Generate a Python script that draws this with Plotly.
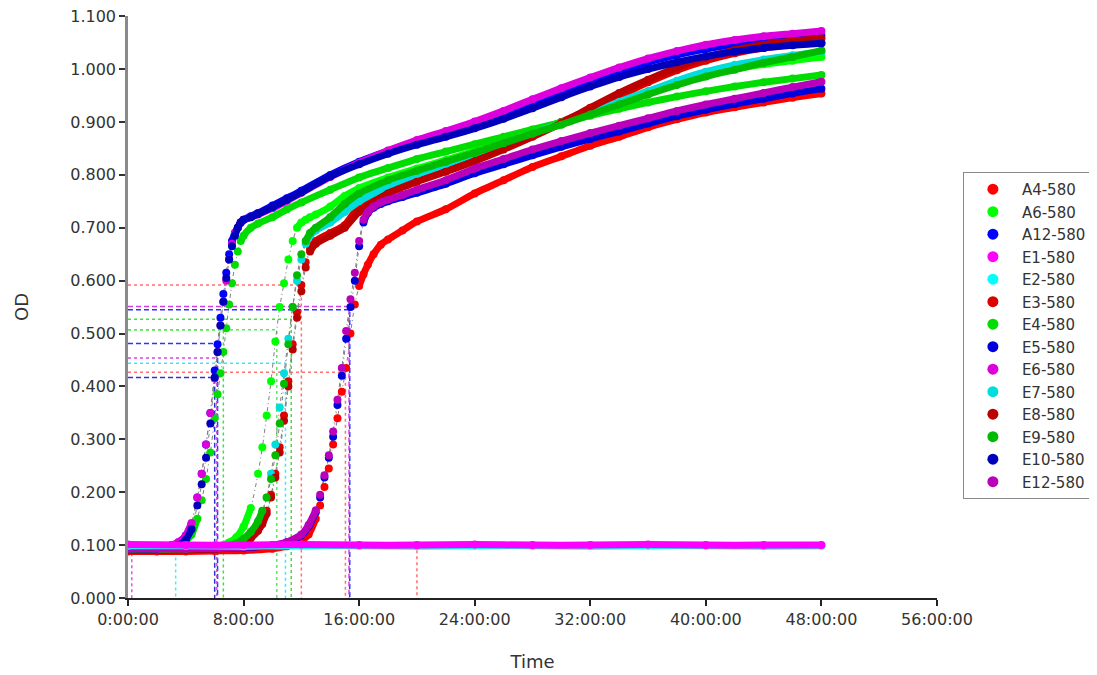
import plotly.graph_objects as go

# ---- time grids (hours) ----
t_early = [0, 2, 3, 3.5, 4, 4.4, 4.8, 5.1, 5.4, 5.7, 6.0, 6.2, 6.4, 6.6, 6.8, 7.0, 7.2, 7.4, 7.6, 7.8,
           8.0, 8.5, 9, 10, 11, 12, 14, 16, 18, 20, 22, 24, 26, 28, 30, 32, 34, 36, 38, 40, 42, 44, 46, 48]
t_mid = [0, 2, 4, 6, 7, 7.5, 8, 8.5, 9, 9.3, 9.6, 9.9, 10.2, 10.5, 10.8, 11.1, 11.4, 11.7, 12, 12.3,
         12.6, 13, 14, 15, 16, 18, 20, 22, 24, 26, 28, 30, 32, 34, 36, 38, 40, 42, 44, 46, 48]
t_late = [0, 2, 4, 6, 8, 10, 11, 12, 12.5, 13, 13.3, 13.6, 13.9, 14.2, 14.5, 14.8, 15.1, 15.4, 15.7, 16.0,
          16.3, 16.6, 17, 17.5, 18, 19, 20, 22, 24, 26, 28, 30, 32, 34, 36, 38, 40, 42, 44, 46, 48]
t_flat = [0, 4, 8, 12, 16, 20, 24, 28, 32, 36, 40, 44, 48]

# ---- OD values ----
od_A12 = [0.095, 0.095, 0.099, 0.105, 0.118, 0.140, 0.190, 0.235, 0.290, 0.350, 0.430, 0.480, 0.530, 0.575, 0.615, 0.650, 0.675, 0.690, 0.700, 0.710,
          0.715, 0.722, 0.728, 0.742, 0.756, 0.770, 0.800, 0.825, 0.845, 0.862, 0.878, 0.895, 0.915, 0.937, 0.958, 0.978, 0.997, 1.013, 1.027, 1.038, 1.047, 1.054, 1.059, 1.063]
od_E6 = [0.095, 0.096, 0.100, 0.106, 0.118, 0.142, 0.190, 0.235, 0.290, 0.350, 0.415, 0.465, 0.515, 0.560, 0.600, 0.640, 0.670, 0.690, 0.700, 0.710,
         0.715, 0.720, 0.725, 0.737, 0.751, 0.766, 0.796, 0.823, 0.846, 0.866, 0.883, 0.901, 0.921, 0.943, 0.964, 0.984, 1.003, 1.020, 1.034, 1.046, 1.055, 1.062, 1.067, 1.072]
od_E10 = [0.093, 0.093, 0.096, 0.100, 0.110, 0.130, 0.175, 0.215, 0.265, 0.330, 0.417, 0.465, 0.515, 0.560, 0.605, 0.640, 0.665, 0.685, 0.700, 0.710,
          0.715, 0.720, 0.726, 0.739, 0.753, 0.767, 0.797, 0.820, 0.840, 0.857, 0.872, 0.888, 0.906, 0.926, 0.947, 0.967, 0.985, 1.000, 1.013, 1.024, 1.033, 1.040, 1.045, 1.049]
od_E4 = [0.094, 0.094, 0.097, 0.101, 0.108, 0.120, 0.150, 0.185, 0.225, 0.275, 0.340, 0.385, 0.425, 0.465, 0.510, 0.555, 0.595, 0.630, 0.655, 0.675,
         0.685, 0.700, 0.708, 0.720, 0.735, 0.748, 0.772, 0.795, 0.813, 0.830, 0.844, 0.858, 0.872, 0.886, 0.899, 0.912, 0.925, 0.937, 0.948, 0.958, 0.967, 0.975, 0.982, 0.989]

od_A6 = [0.093, 0.093, 0.094, 0.097, 0.105, 0.115, 0.135, 0.170, 0.235, 0.285, 0.345, 0.410, 0.485, 0.550, 0.595, 0.640, 0.675, 0.700, 0.710, 0.715,
         0.720, 0.725, 0.740, 0.760, 0.775, 0.795, 0.812, 0.828, 0.845, 0.863, 0.882, 0.900, 0.920, 0.940, 0.958, 0.975, 0.990, 1.000, 1.009, 1.016, 1.023]
od_E9 = [0.092, 0.092, 0.093, 0.095, 0.099, 0.104, 0.112, 0.125, 0.145, 0.165, 0.190, 0.225, 0.270, 0.330, 0.405, 0.480, 0.550, 0.610, 0.650, 0.675,
         0.690, 0.700, 0.720, 0.745, 0.765, 0.790, 0.808, 0.825, 0.842, 0.860, 0.878, 0.895, 0.914, 0.933, 0.952, 0.970, 0.986, 0.999, 1.012, 1.023, 1.035]
od_E7 = [0.092, 0.092, 0.093, 0.095, 0.099, 0.103, 0.110, 0.122, 0.142, 0.160, 0.190, 0.235, 0.290, 0.360, 0.425, 0.490, 0.550, 0.600, 0.640, 0.670,
         0.685, 0.695, 0.710, 0.730, 0.750, 0.778, 0.800, 0.820, 0.840, 0.860, 0.878, 0.897, 0.917, 0.938, 0.958, 0.978, 0.995, 1.008, 1.018, 1.026, 1.033]
od_E3 = [0.090, 0.090, 0.091, 0.093, 0.096, 0.100, 0.106, 0.115, 0.130, 0.145, 0.165, 0.195, 0.235, 0.285, 0.345, 0.410, 0.480, 0.540, 0.592, 0.635,
         0.660, 0.675, 0.690, 0.705, 0.740, 0.770, 0.790, 0.810, 0.830, 0.852, 0.875, 0.900, 0.925, 0.950, 0.975, 0.998, 1.016, 1.030, 1.040, 1.046, 1.050]
od_E8 = [0.090, 0.090, 0.091, 0.093, 0.096, 0.099, 0.104, 0.113, 0.127, 0.140, 0.160, 0.190, 0.228, 0.275, 0.335, 0.400, 0.470, 0.530, 0.580, 0.625,
         0.655, 0.670, 0.685, 0.700, 0.730, 0.765, 0.787, 0.806, 0.826, 0.848, 0.872, 0.898, 0.927, 0.955, 0.980, 1.003, 1.022, 1.036, 1.046, 1.053, 1.058]

od_A4 = [0.088, 0.088, 0.088, 0.089, 0.090, 0.093, 0.098, 0.108, 0.120, 0.150, 0.175, 0.210, 0.245, 0.290, 0.340, 0.390, 0.435, 0.500, 0.555, 0.590,
         0.612, 0.630, 0.650, 0.668, 0.678, 0.695, 0.712, 0.735, 0.765, 0.790, 0.815, 0.835, 0.855, 0.872, 0.890, 0.905, 0.918, 0.928, 0.937, 0.946, 0.954]
od_E5 = [0.092, 0.092, 0.092, 0.093, 0.095, 0.099, 0.105, 0.118, 0.135, 0.162, 0.190, 0.228, 0.265, 0.305, 0.365, 0.420, 0.490, 0.550, 0.600, 0.665,
         0.710, 0.728, 0.738, 0.745, 0.750, 0.758, 0.766, 0.783, 0.803, 0.820, 0.837, 0.853, 0.868, 0.882, 0.897, 0.911, 0.923, 0.934, 0.944, 0.954, 0.963]
od_E12 = [0.093, 0.093, 0.093, 0.094, 0.096, 0.100, 0.106, 0.120, 0.138, 0.166, 0.195, 0.232, 0.270, 0.315, 0.375, 0.435, 0.505, 0.565, 0.615, 0.675,
          0.715, 0.730, 0.740, 0.748, 0.753, 0.762, 0.772, 0.790, 0.812, 0.830, 0.848, 0.864, 0.879, 0.893, 0.907, 0.921, 0.933, 0.944, 0.955, 0.966, 0.976]

od_E1 = [0.101, 0.100, 0.100, 0.101, 0.100, 0.100, 0.101, 0.100, 0.100, 0.101, 0.100, 0.100, 0.100]
od_E2 = [0.099, 0.099, 0.098, 0.099, 0.099, 0.098, 0.099, 0.099, 0.098, 0.099, 0.099, 0.098, 0.099]

# ---- threshold (time-to-OD) guide lines ----
thr_level = [0.481, 0.417, 0.454, 0.507, 0.507, 0.527, 0.444, 0.592, 0.427, 0.545, 0.551, 0.100, 0.100, 0.100]
thr_time = [6.2, 6.0, 6.15, 6.6, 10.3, 11.3, 10.9, 12.0, 15.05, 15.35, 15.3, 0.26, 3.3, 20.0]
thr_color = ['#3030ff', '#3030e0', '#e040e0', '#40e040', '#50f050', '#40e040', '#40e8f0', '#ff7070',
             '#ff7070', '#3030ff', '#d040e0', '#ff40ff', '#40f0f0', '#ff7070']
thr_dash = ['5px,3px', '5px,3px', '3px,3px', '3px,3px', '3px,3px', '3px,3px', '3px,3px', '3px,3px',
            '3px,3px', '5px,3px', '5px,3px', '3px,3px', '3px,3px', '3px,3px']

# ---- legend / series ----
legend_names = ['A4-580', 'A6-580', 'A12-580', 'E1-580', 'E2-580', 'E3-580', 'E4-580', 'E5-580',
                'E6-580', 'E7-580', 'E8-580', 'E9-580', 'E10-580', 'E12-580']
legend_colors = ['#ff0000', '#00ff00', '#0000ff', '#ff00ff', '#00ffff', '#dd0000', '#00dd00', '#0000dd',
                 '#dd00dd', '#00dddd', '#bb0000', '#00bb00', '#0000bb', '#bb00bb']

x_tickvals = [0, 8, 16, 24, 32, 40, 48, 56]
x_ticktext = ['0:00:00', '8:00:00', '16:00:00', '24:00:00', '32:00:00', '40:00:00', '48:00:00', '56:00:00']
y_tickvals = [0.0, 0.1, 0.2, 0.3, 0.4, 0.5, 0.6, 0.7, 0.8, 0.9, 1.0, 1.1]
y_ticktext = ['0.000', '0.100', '0.200', '0.300', '0.400', '0.500', '0.600', '0.700', '0.800', '0.900', '1.000', '1.100']

series = {
    'A4-580': (t_late, od_A4), 'A6-580': (t_mid, od_A6), 'A12-580': (t_early, od_A12),
    'E3-580': (t_mid, od_E3), 'E4-580': (t_early, od_E4), 'E5-580': (t_late, od_E5),
    'E6-580': (t_early, od_E6), 'E7-580': (t_mid, od_E7), 'E8-580': (t_mid, od_E8),
    'E9-580': (t_mid, od_E9), 'E10-580': (t_early, od_E10), 'E12-580': (t_late, od_E12),
    'E2-580': (t_flat, od_E2), 'E1-580': (t_flat, od_E1),
}
color_of = dict(zip(legend_names, legend_colors))
STEEP = 0.08  # OD per hour; above this the reading points are shown as separate dots


def slow_segments(tx, ty):
    """Return x/y with gaps (None) wherever the curve is steep, so that the
    dense band is drawn only in the slow (lag / plateau) phases."""
    xs, ys = [], []
    for i in range(len(tx) - 1):
        slope = (ty[i + 1] - ty[i]) / (tx[i + 1] - tx[i])
        if slope < STEEP:
            if not xs or xs[-1] != tx[i]:
                if xs:
                    xs.append(None)
                    ys.append(None)
                xs.append(tx[i])
                ys.append(ty[i])
            xs.append(tx[i + 1])
            ys.append(ty[i + 1])
    return xs, ys


fig = go.Figure()

# guide lines first (behind the data)
for lvl, tt, col, dsh in zip(thr_level, thr_time, thr_color, thr_dash):
    fig.add_trace(go.Scatter(x=[0, tt, tt], y=[lvl, lvl, 0], mode='lines',
                             line=dict(color=col, width=1.5, dash=dsh),
                             showlegend=False, hoverinfo='skip'))

# thin grey fitted curves through the growth phase
for name, (tx, ty) in series.items():
    if name in ('E1-580', 'E2-580'):
        continue
    fig.add_trace(go.Scatter(x=tx, y=ty, mode='lines',
                             line=dict(color='#808080', width=1, dash='4px,3px,1px,3px',
                                       shape='spline', smoothing=0.6),
                             showlegend=False, hoverinfo='skip'))

for name, (tx, ty) in series.items():
    lx, ly = slow_segments(tx, ty)
    fig.add_trace(go.Scatter(x=lx, y=ly, mode='lines', name=name,
                             line=dict(color=color_of[name], width=7, shape='spline', smoothing=0.6),
                             showlegend=False, hoverinfo='skip', connectgaps=False))
    fig.add_trace(go.Scatter(x=tx, y=ty, mode='markers', name=name,
                             marker=dict(color=color_of[name], size=8),
                             showlegend=False))

# legend entries (dot only, as in the original)
for name, col in zip(legend_names, legend_colors):
    fig.add_trace(go.Scatter(x=[None], y=[None], mode='markers', name=name,
                             marker=dict(color=col, size=11)))

font_family = 'DejaVu Sans, Arial, sans-serif'
fig.update_layout(
    width=1097, height=675,
    margin=dict(l=120, r=168, t=8, b=85, autoexpand=False),
    paper_bgcolor='white', plot_bgcolor='white',
    font=dict(family=font_family, size=16, color='#333333'),
    legend=dict(x=1.032, xanchor='left', y=0.732, yanchor='top',
                bordercolor='#8a8a8a', borderwidth=1, bgcolor='white',
                font=dict(size=15, color='#333333'),
                itemwidth=48),
    showlegend=True,
)
fig.update_xaxes(range=[0, 56], tickvals=x_tickvals, ticktext=x_ticktext,
                 showline=True, linecolor='#222222', linewidth=1.5,
                 ticks='outside', ticklen=6, tickcolor='#222222', tickwidth=1.5,
                 showgrid=False, zeroline=False, ticklabeloverflow='allow', automargin=False,
                 title=dict(text='Time', font=dict(size=18, color='#333333'), standoff=27))
fig.update_yaxes(range=[0, 1.1004], tickvals=y_tickvals, ticktext=y_ticktext,
                 showline=True, linecolor='#8a8a8a', linewidth=2.5,
                 ticks='outside', ticklen=6, tickcolor='#333333', tickwidth=1.5,
                 showgrid=False, zeroline=False, ticklabeloverflow='allow', automargin=False,
                 title=dict(text='OD', font=dict(size=18, color='#333333'), standoff=37))

fig.write_html('out.html')
